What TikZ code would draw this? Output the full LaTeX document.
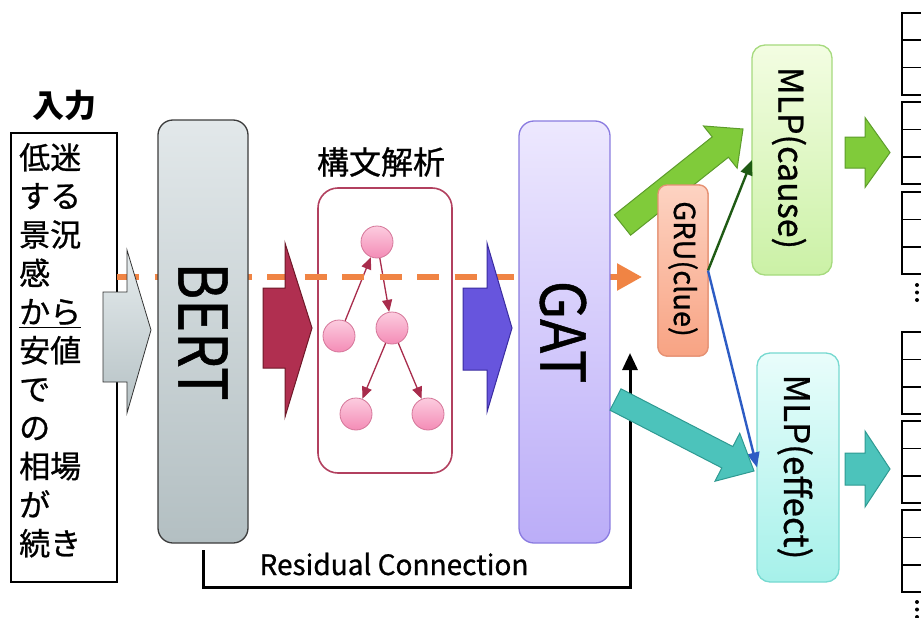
\documentclass[tikz,border=0pt]{standalone}
\usepackage{fontspec}
\setmainfont{Noto Sans CJK JP}[UprightFeatures={FakeBold=0.8}]
\usetikzlibrary{arrows.meta,calc}

\definecolor{bertTop}{HTML}{E2E8EA}
\definecolor{bertBot}{HTML}{B3BFC2}
\definecolor{bertLine}{HTML}{3C3C3C}
\definecolor{gatTop}{HTML}{EDE8FE}
\definecolor{gatBot}{HTML}{BBADF8}
\definecolor{gatLine}{HTML}{8A7BE0}
\definecolor{gruTop}{HTML}{FDD3C2}
\definecolor{gruBot}{HTML}{F8A383}
\definecolor{gruLine}{HTML}{E69173}
\definecolor{causeTop}{HTML}{F3FDE2}
\definecolor{causeBot}{HTML}{CBF1A6}
\definecolor{causeLine}{HTML}{A6DA7E}
\definecolor{effTop}{HTML}{E9FDFB}
\definecolor{effBot}{HTML}{A6F1EA}
\definecolor{effLine}{HTML}{76D9D0}
\definecolor{parseLine}{HTML}{B2405F}
\definecolor{treeTop}{HTML}{FCCCDF}
\definecolor{treeBot}{HTML}{F48CB6}
\definecolor{treeLine}{HTML}{D57699}
\definecolor{treeArrow}{HTML}{A82C4C}
\definecolor{orangeDash}{HTML}{F08444}
\definecolor{greenFill}{HTML}{80CB3A}
\definecolor{greenLine}{HTML}{5C9C2A}
\definecolor{tealFill}{HTML}{4CC3BB}
\definecolor{tealLine}{HTML}{2E9A92}
\definecolor{redFill}{HTML}{B02F50}
\definecolor{redLine}{HTML}{6E1828}
\definecolor{blueFill}{HTML}{6755DD}
\definecolor{blueLine}{HTML}{3A2CA0}
\definecolor{grayTop}{HTML}{E6ECEE}
\definecolor{grayBot}{HTML}{B5C1C4}
\definecolor{causeArrow}{HTML}{1F5A14}
\definecolor{effArrow}{HTML}{2D5CC4}

% block arrow: style, tail, tip, shaft half width, head half width, head length
\newcommand{\blockarrow}[6]{%
  \draw[#1] ($(#2)!#4!90:(#3)$)
    -- ($(#3)!#6!(#2)!#4!-90:(#2)$)
    -- ($(#3)!#6!(#2)!#5!-90:(#2)$)
    -- (#3)
    -- ($(#3)!#6!(#2)!#5!90:(#2)$)
    -- ($(#3)!#6!(#2)!#4!90:(#2)$)
    -- ($(#2)!#4!-90:(#3)$) -- cycle;}

\newcommand{\fs}[2]{\fontsize{#1}{#2}\selectfont}

\begin{document}
\begin{tikzpicture}[x=1pt,y=-1pt,
  panel/.style={inner sep=0pt, outer sep=0pt, line width=1.3pt},
  boxlabel/.style={rotate=-90, inner sep=0pt, text=black},
  treenode/.style={circle, minimum size=32pt, inner sep=0pt, draw=treeLine,
    line width=0.8pt, top color=treeTop, bottom color=treeBot},
  treearrow/.style={treeArrow, line width=1.3pt, -{Triangle[length=12pt,width=10pt]}},
  inline/.style={anchor=base west, inner sep=0pt, font=\fs{31}{38}},
  bigGreen/.style={fill=greenFill, draw=greenLine, line width=1pt},
  bigTeal/.style={fill=tealFill, draw=tealLine, line width=1pt},
  thinarrow/.style={line width=2.4pt, -{Triangle[length=15pt,width=12pt]}},
  tbl/.style={line width=1.6pt, draw=black}]

\useasboundingbox (0,0) rectangle (921,618);
\fill[white] (0,0) rectangle (921,618);
\clip (0,0) rectangle (921,618);

% ---------- input sentence ----------
\node[font=\fs{32}{36}\bfseries, inner sep=0pt] (intitle) at (64,105) {入力};
\node[panel, draw=black, line width=2pt, minimum width=106pt, minimum height=449pt]
  (input) at (64,357.5) {};
\foreach \t [count=\i] in {低迷,する,景況,感,\underline{から},安値,で,の,相場,が,続き}
  \node[inline] (in\i) at (19,130.4+38.6*\i) {\t};

% ---------- dependency parse ----------
\node[font=\fs{32}{36}, inner sep=0pt] (parsetitle) at (381,162) {構文解析};
\node[panel, draw=parseLine, line width=1.6pt, rounded corners=20pt,
  minimum width=134pt, minimum height=285pt] (parse) at (385,330.5) {};
\node[treenode] (t1) at (377,242) {};
\node[treenode] (t2) at (339,336) {};
\node[treenode] (t3) at (392,328) {};
\node[treenode] (t4) at (356,414) {};
\node[treenode] (t5) at (428,414) {};
\draw[treearrow] (t2) -- (t1);
\draw[treearrow] (t1) -- (t3);
\draw[treearrow] (t3) -- (t4);
\draw[treearrow] (t3) -- (t5);

% ---------- main boxes ----------
\node[panel, draw=gruLine, rounded corners=9pt, top color=gruTop, bottom color=gruBot,
  minimum width=50pt, minimum height=171pt] (gru) at (683,270.5) {};

% clue path (dashed)
\coordinate (dashstart) at (117,277);
\draw[orangeDash, line width=5.5pt, dash pattern=on 22pt off 15.5pt,
  -{Triangle[length=25pt,width=26pt,sep=6pt]}, shorten >=10pt]
  (dashstart) -- (dashstart -| gru.west);

% input -> BERT arrow
\draw[top color=grayTop, bottom color=grayBot, draw=black!80, line width=0.8pt]
  (103,292) -- (127,292) -- (127,250) -- (151,330) -- (127,413) -- (127,382) -- (103,382) -- cycle;

\node[panel, draw=bertLine, rounded corners=15pt, top color=bertTop, bottom color=bertBot,
  minimum width=90pt, minimum height=423pt] (bert) at (203,331.5) {};
\node[boxlabel, font=\fs{56}{60}, yscale=1.2] (berttext) at (bert.center) {BERT};

% BERT -> parse arrow
\draw[fill=redFill, draw=redLine, line width=1pt]
  (263,288) -- (285,288) -- (285,243) -- (312,328) -- (285,417) -- (285,368) -- (263,368) -- cycle;

% parse -> GAT arrow
\draw[fill=blueFill, draw=blueLine, line width=1pt]
  (463,288) -- (487,288) -- (487,243) -- (512,328) -- (487,412) -- (487,370) -- (463,370) -- cycle;

\node[panel, draw=gatLine, rounded corners=15pt, top color=gatTop, bottom color=gatBot,
  minimum width=91pt, minimum height=422pt] (gat) at (564.5,332) {};
\node[boxlabel, font=\fs{56}{60}, yscale=1.1] (gattext) at (563,332) {GAT};

% GAT -> MLP(cause)
\coordinate (ga) at (622.5,225);
\coordinate (gb) at (743,129);
\blockarrow{bigGreen}{ga}{gb}{13pt}{27pt}{29pt}

% GRU drawn over the green arrow
\node[panel, draw=gruLine, rounded corners=9pt, top color=gruTop, bottom color=gruBot,
  minimum width=50pt, minimum height=171pt] (gru2) at (gru.center) {};
\node[boxlabel, font=\fs{29}{33}] (grutext) at (683,269) {GRU(clue)};

\node[panel, draw=causeLine, rounded corners=13pt, top color=causeTop, bottom color=causeBot,
  minimum width=80pt, minimum height=230pt] (mlpc) at (792,160) {};
\node[boxlabel, font=\fs{34}{38}] (mlpctext) at (789,158) {MLP(cause)};

\node[panel, draw=effLine, rounded corners=13pt, top color=effTop, bottom color=effBot,
  minimum width=82pt, minimum height=229pt] (mlpe) at (798,467.5) {};
\node[boxlabel, font=\fs{35}{39}] (mlpetext) at (795,467) {MLP(effect)};

% GRU -> MLPs
\draw[thinarrow, causeArrow] (gru.east) -- (mlpc.west);
\draw[thinarrow, effArrow] (gru.east) -- (mlpe.west);

% residual connection
\coordinate (rescorner) at (630,587);
\coordinate (resend) at (630,353);
\draw[line width=3pt, -{Triangle[length=17pt,width=15pt]}]
  ([yshift=-7pt]bert.south) |- (rescorner) -- (resend);
\node[font=\fs{28}{32}, anchor=base, inner sep=0pt] (restext) at (394,575) {Residual Connection};

% GAT -> MLP(effect)
\coordinate (ta) at (615.5,399.5);
\coordinate (tb) at (754,471);
\blockarrow{bigTeal}{ta}{tb}{12pt}{27pt}{30pt}

% MLP -> outputs
\coordinate (oca) at (845,152.5);
\coordinate (ocb) at (890,152.5);
\blockarrow{bigGreen}{oca}{ocb}{15.5pt}{35pt}{25pt}
\coordinate (oea) at (845,469);
\coordinate (oeb) at (890,469);
\blockarrow{bigTeal}{oea}{oeb}{16pt}{38pt}{25pt}

% output tables
\foreach \t in {13,102,192,332,421,510} {
  \draw[tbl] (902,\t) rectangle (940,\t+82);
  \draw[tbl] (902,\t+27.3) -- (940,\t+27.3);
  \draw[tbl] (902,\t+54.7) -- (940,\t+54.7);
}
\foreach \y in {285,292.5,300,602,609.5,617}
  \fill (917,\y) circle (2pt);
\end{tikzpicture}
\end{document}
